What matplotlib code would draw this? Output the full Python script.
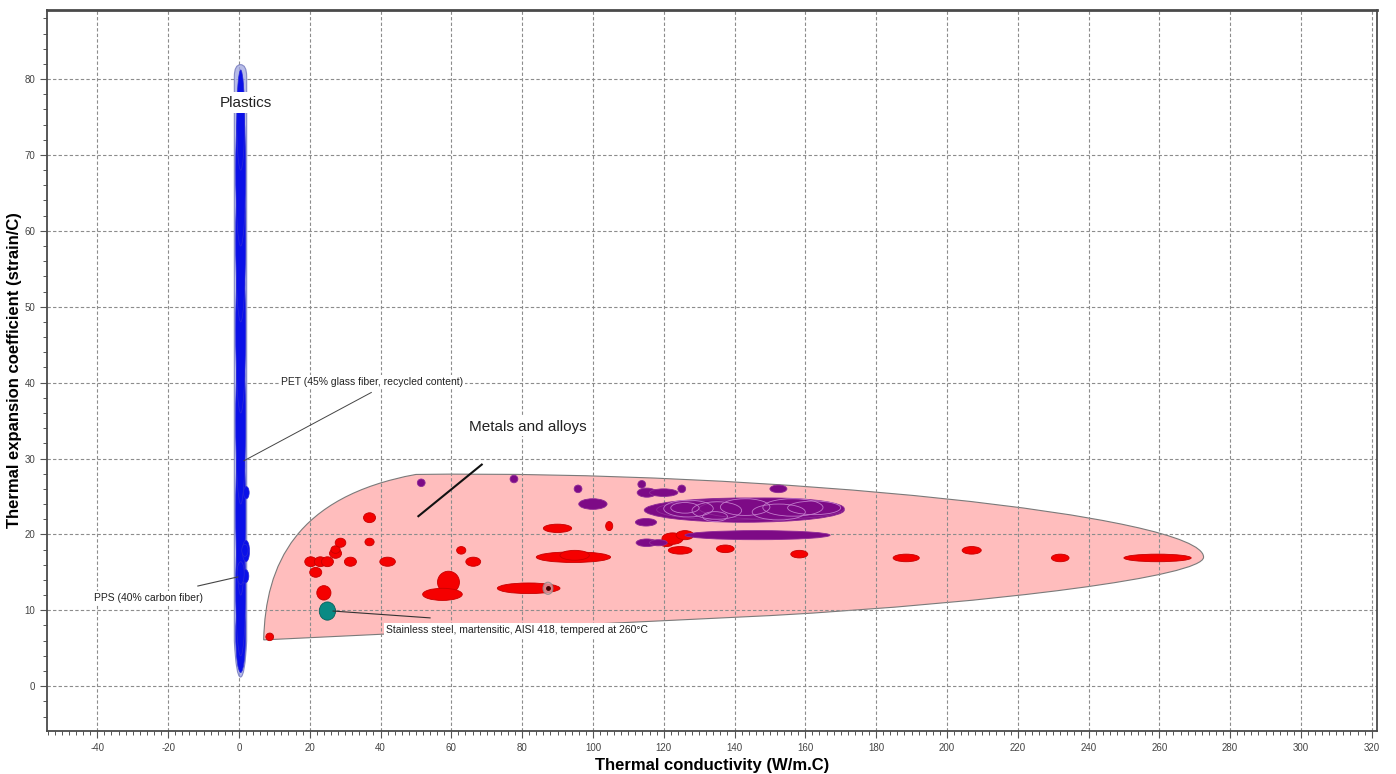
import matplotlib
matplotlib.use("Agg")
import matplotlib.pyplot as plt
from matplotlib.patches import Ellipse, PathPatch
from matplotlib.path import Path
from matplotlib.ticker import MultipleLocator

plt.rcParams["font.family"] = ["Liberation Sans", "DejaVu Sans"]
plt.rcParams["axes.unicode_minus"] = False

# ---- data: property ranges (x = thermal conductivity, y = thermal expansion) ----
# each bubble: (x_lo, x_hi, y_lo, y_hi)
plastic_bubbles = [
    (-0.9, 1.9, 1.8, 12.0),
    (-0.9, 1.9, 4.0, 22.0),
    (-0.9, 1.9, 12.0, 34.0),
    (-0.9, 1.9, 24.0, 46.0),
    (-0.9, 1.9, 36.0, 58.0),
    (-0.9, 1.9, 48.0, 70.0),
    (-0.9, 1.9, 58.0, 78.0),
    (-0.6, 1.6, 68.0, 81.2),
    (1.3, 2.9, 24.7, 26.3),
    (1.0, 3.0, 16.4, 19.2),
    (0.6, 2.8, 13.6, 15.4),
    (-0.5, 1.5, 13.4, 16.4),
    (0.8, 2.6, 17.1, 18.7),
]

red_bubbles = [
    (7.6, 9.8, 6.0, 7.0),
    (22.0, 26.0, 11.35, 13.25),
    (18.6, 22.0, 15.75, 17.05),
    (20.0, 23.4, 14.35, 15.65),
    (21.3, 24.7, 15.75, 17.05),
    (23.3, 26.7, 15.75, 17.05),
    (25.6, 29.0, 16.85, 18.15),
    (26.0, 28.6, 17.5, 18.5),
    (27.2, 30.2, 18.3, 19.5),
    (29.8, 33.2, 15.8, 17.0),
    (35.2, 38.6, 21.55, 22.85),
    (35.6, 38.2, 18.5, 19.5),
    (39.8, 44.2, 15.8, 17.0),
    (61.5, 64.1, 17.4, 18.4),
    (64.1, 68.3, 15.8, 17.0),
    (56.1, 62.3, 12.25, 15.15),
    (51.9, 63.1, 11.3, 12.9),
    (73.0, 90.7, 12.2, 13.6),
    (84.0, 105.0, 16.3, 17.7),
    (90.7, 99.0, 16.6, 17.9),
    (86.0, 94.0, 20.25, 21.35),
    (103.6, 105.6, 20.5, 21.7),
    (118.8, 122.8, 18.4, 19.4),
    (119.5, 125.5, 18.7, 20.2),
    (123.5, 128.5, 19.3, 20.5),
    (121.3, 128.0, 17.4, 18.4),
    (134.9, 139.9, 17.6, 18.6),
    (155.9, 160.7, 16.9, 17.9),
    (184.8, 192.2, 16.4, 17.4),
    (204.3, 209.7, 17.4, 18.4),
    (229.5, 234.5, 16.4, 17.4),
    (250.0, 269.0, 16.4, 17.4),
]

purple_bubbles = [
    (50.4, 52.6, 26.3, 27.3),
    (76.6, 78.8, 26.8, 27.8),
    (94.7, 96.9, 25.5, 26.5),
    (96.0, 104.0, 23.3, 24.7),
    (112.7, 114.9, 26.1, 27.1),
    (112.5, 118.0, 24.9, 26.1),
    (116.0, 124.0, 25.0, 26.0),
    (124.0, 126.2, 25.5, 26.5),
    (150.0, 154.8, 25.5, 26.5),
    (112.0, 118.0, 21.1, 22.1),
    (114.5, 171.0, 21.6, 24.8),
    (118.0, 160.0, 21.9, 24.6),
    (130.0, 171.0, 22.0, 24.8),
    (126.0, 167.0, 19.3, 20.5),
    (112.2, 118.2, 18.4, 19.4),
    (116.0, 121.0, 18.5, 19.3),
]

# outlines of overlapping grades inside the big purple cluster
purple_outlines = [
    (120.0, 134.0, 22.3, 24.5),
    (128.0, 142.0, 22.0, 24.3),
    (131.0, 138.0, 21.7, 23.0),
    (136.0, 150.0, 22.5, 24.7),
    (145.0, 160.0, 21.9, 24.0),
    (148.0, 165.0, 22.4, 24.7),
    (155.0, 170.0, 22.6, 24.4),
    (122.0, 130.0, 22.8, 24.2),
]

teal_bubbles = [(22.7, 27.3, 8.7, 11.1)]
selected_point = (87.3, 12.9)

# envelope outlines (data units): bezier segments
metals_env = [
    (Path.MOVETO, (7.0, 6.1)),
    (Path.CURVE4, (7.5, 16.0)), (Path.CURVE4, (16.0, 25.0)), (Path.CURVE4, (50.0, 27.9)),
    (Path.CURVE4, (150.0, 28.5)), (Path.CURVE4, (272.5, 22.5)), (Path.CURVE4, (272.5, 17.0)),
    (Path.CURVE4, (272.5, 14.5)), (Path.CURVE4, (215.0, 11.0)), (Path.CURVE4, (150.0, 9.3)),
    (Path.LINETO, (7.0, 6.1)),
    (Path.CLOSEPOLY, (7.0, 6.1)),
]
plastics_env = [
    (Path.MOVETO, (-1.3, 6.0)),
    (Path.LINETO, (-1.3, 80.3)),
    (Path.CURVE3, (-1.3, 81.9)), (Path.CURVE3, (0.45, 81.9)),
    (Path.CURVE3, (2.2, 81.9)), (Path.CURVE3, (2.2, 80.3)),
    (Path.LINETO, (2.2, 6.0)),
    (Path.CURVE3, (1.7, 1.2)), (Path.CURVE3, (0.45, 1.2)),
    (Path.CURVE3, (-0.8, 1.2)), (Path.CURVE3, (-1.3, 6.0)),
    (Path.CLOSEPOLY, (-1.3, 6.0)),
]

fig = plt.figure(figsize=(13.96, 7.74), dpi=100)
ax = fig.add_axes([0.0337, 0.0556, 0.9527, 0.9315])
ax.set_xlim(-54.2, 321.5)
ax.set_ylim(-5.9, 89.1)


def add_env(spec, fc, ec, alpha=1.0, z=0.3):
    codes, verts = zip(*spec)
    ax.add_patch(PathPatch(Path(verts, codes), facecolor=fc, edgecolor=ec,
                           lw=0.8, alpha=alpha, zorder=z))


def add_bubbles(bubbles, fc, ec, lw=0.6, z=2, alpha=1.0):
    for x0, x1, y0, y1 in bubbles:
        ax.add_patch(Ellipse(((x0 + x1) / 2, (y0 + y1) / 2), x1 - x0, y1 - y0,
                             facecolor=fc, edgecolor=ec, lw=lw, zorder=z, alpha=alpha))


add_env(metals_env, "#ffbdbd", "#7a7a7a")
add_env(plastics_env, "#9fa6e0", "#6a6fb8", alpha=0.75, z=1.5)

add_bubbles(plastic_bubbles, "#0a10e8", "#2a2ad8", lw=0.5, z=2)
add_bubbles(red_bubbles, "#f50000", "#c80000")
add_bubbles(purple_bubbles, "#7d0a86", "#8e2a96", lw=0.6)
add_bubbles(purple_outlines, "none", "#c27acb", lw=0.6, z=2.1)
add_bubbles(teal_bubbles, "#0a8a84", "#05605c")
ax.add_patch(Ellipse(selected_point, 2.8, 1.6, facecolor="#d9a0a8", edgecolor="#8a8a8a",
                     lw=0.8, alpha=0.8, zorder=3))
ax.plot(*selected_point, "o", ms=2.5, color="#400000", zorder=4)

# ---- axes styling ----
ax.set_axisbelow(True)
ax.xaxis.set_major_locator(MultipleLocator(20))
ax.xaxis.set_minor_locator(MultipleLocator(2))
ax.yaxis.set_major_locator(MultipleLocator(10))
ax.yaxis.set_minor_locator(MultipleLocator(2))
ax.grid(True, which="major", color="#8c8c8c", lw=0.8, ls=(0, (3, 2)))
ax.tick_params(which="major", direction="out", length=5, width=0.8, color="#555",
               labelsize=7, labelcolor="#444")
ax.tick_params(which="minor", direction="out", length=3, width=0.7, color="#555")
for s in ax.spines.values():
    s.set_color("#4a4a4a")
    s.set_linewidth(1.3)
ax.spines["top"].set_linewidth(2.0)

ax.set_xlabel("Thermal conductivity (W/m.C)", fontsize=12, weight="bold", labelpad=4)
ax.set_ylabel("Thermal expansion coefficient (strain/C)", fontsize=12, weight="bold", labelpad=2)

# ---- annotations ----
wbox = dict(facecolor="white", edgecolor="none", pad=1.5)
ax.text(2.0, 76.9, "Plastics", fontsize=11, ha="center", va="center", color="#222",
        bbox=dict(facecolor="white", edgecolor="none", pad=2.5), zorder=6)
ax.plot([1.4, 37.4], [29.7, 38.7], color="#444", lw=0.7, zorder=5)
ax.text(11.9, 40.1, "PET (45% glass fiber, recycled content)", fontsize=7.5, ha="left",
        va="center", color="#222", bbox=wbox, zorder=6)
ax.plot([-11.6, -0.3], [13.2, 14.4], color="#444", lw=0.8, zorder=5)
ax.text(-40.8, 11.6, "PPS (40% carbon fiber)", fontsize=7.5, ha="left", va="center",
        color="#222", bbox=wbox, zorder=6)
ax.plot([26.6, 54.0], [9.9, 9.0], color="#333", lw=0.8, zorder=5)
ax.text(41.6, 7.4, "Stainless steel, martensitic, AISI 418, tempered at 260\u00b0C",
        fontsize=7.5, ha="left", va="center", color="#222", bbox=wbox, zorder=6)
ax.plot([50.7, 68.6], [22.4, 29.2], color="#111", lw=1.5, zorder=5)
ax.text(81.6, 34.2, "Metals and alloys", fontsize=11, ha="center", va="center",
        color="#222", bbox=wbox, zorder=6)

fig.savefig("out.png", dpi=100)
